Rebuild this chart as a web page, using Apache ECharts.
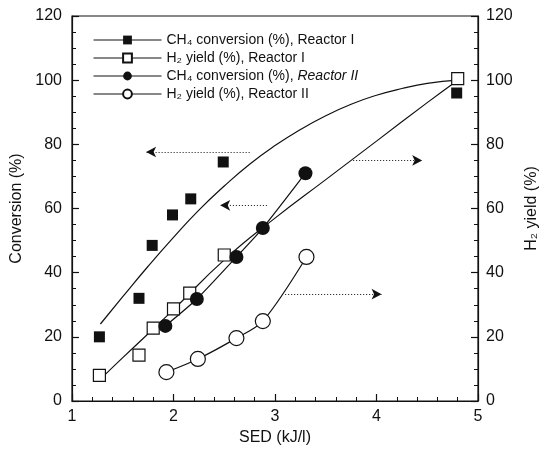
<!DOCTYPE html>
<html>
<head>
<meta charset="utf-8">
<script src="https://cdn.jsdelivr.net/npm/echarts@6/dist/echarts.min.js"></script>
<style>
html,body{margin:0;padding:0;background:#fff;}
#main{width:544px;height:451px;}
</style>
</head>
<body>
<div id="main"></div>
<script>
// measured points
var sedCh4R1 = [1.27, 1.66, 1.79, 1.99, 2.17, 2.49, 4.79];
var ch4R1 = [20, 32, 48.5, 58, 63, 74.5, 96];
var sedH2R1 = [1.27, 1.66, 1.8, 2.0, 2.16, 2.5, 4.8];
var h2R1 = [8, 14.3, 22.7, 28.7, 33.6, 45.5, 100.5];
var sedCh4R2 = [1.92, 2.23, 2.62, 2.88, 3.3];
var ch4R2 = [23.4, 31.8, 44.9, 53.9, 71];
var sedH2R2 = [1.93, 2.24, 2.62, 2.88, 3.31];
var h2R2 = [9, 13.1, 19.6, 24.9, 44.9];

// trend lines
var fitCh4R1X = [1.28, 1.5, 1.75, 2.0, 2.25, 2.5, 2.75, 3.0, 3.25, 3.5, 3.75, 4.0, 4.25, 4.5, 4.8];
var fitCh4R1Y = [24, 32.5, 42, 51, 59.5, 67, 73.8, 79.6, 84.6, 88.9, 92.5, 95.3, 97.4, 99, 100];
var fitH2R1X = [1.27, 1.5, 2.0, 2.5, 3.0, 3.5, 4.0, 4.5, 4.8];
var fitH2R1Y = [6.5, 13.5, 28.5, 44, 57, 69, 81, 93, 100];

// arrows: [x from, x to, y, axis]
var arrows = [
	[2.75, 1.73, 77.6, 0],
	[2.92, 2.46, 61, 0],
	[3.77, 4.45, 75, 1],
	[3.1, 4.05, 33.3, 1]
];

var legendNames = ['CH\u2084 conversion (%), Reactor I', 'H\u2082 yield (%), Reactor I',
	'CH\u2084 conversion (%), Reactor II', 'H\u2082 yield (%), Reactor II'];

function pairs(xs, ys) {
	var out = [];
	for (var i = 0; i < xs.length; i++) out.push([xs[i], ys[i]]);
	return out;
}

function arrowLines(axis) {
	var out = [];
	for (var i = 0; i < arrows.length; i++) {
		if (arrows[i][3] != axis) continue;
		out.push([{coord: [arrows[i][0], arrows[i][2]]}, {coord: [arrows[i][1], arrows[i][2]]}]);
	}
	return out;
}

var ink = '#111';
var fontFam = 'Liberation Sans, Arial, sans-serif';
var legendLine = {width: 1, color: ink, opacity: 1};
var gridBox = {left: 72, right: 66, top: 16, bottom: 50, outerBoundsMode: 'none', containLabel: false};

function tick() {
	return {show: true, inside: true, length: 7, lineStyle: {color: ink, width: 1.2}};
}
function minor(n) {
	return {show: true, splitNumber: n, length: 4, lineStyle: {color: ink, width: 1}};
}
function noSplit() {
	return {show: true, lineStyle: {color: '#fff', opacity: 0}};
}

var myChart = echarts.init(document.getElementById('main'));
var option = {
	animation: false,
	backgroundColor: '#fff',
	textStyle: {fontFamily: fontFam, color: ink},
	grid: [
		echarts.util.extend({show: true, borderColor: ink, borderWidth: 1.2, backgroundColor: 'transparent'}, gridBox),
		echarts.util.extend({}, gridBox)
	],
	legend: {
		left: 88,
		top: 28,
		orient: 'vertical',
		itemWidth: 68,
		itemHeight: 11,
		itemGap: 4,
		formatter: function(name) {
			if (name == legendNames[2]) return '{n|CH\u2084 conversion (%), }{i|Reactor II}';
			return '{n|' + name + '}';
		},
		textStyle: {
			fontSize: 14, color: ink, fontFamily: fontFam,
			rich: {
				n: {fontSize: 14, lineHeight: 16, color: ink, fontFamily: fontFam},
				i: {fontSize: 14, lineHeight: 16, color: ink, fontFamily: fontFam, fontStyle: 'italic'}
			}
		},
		data: [
			{name: legendNames[0], lineStyle: legendLine},
			{name: legendNames[1], lineStyle: legendLine},
			{name: legendNames[2], lineStyle: legendLine},
			{name: legendNames[3], lineStyle: legendLine}
		]
	},
	xAxis: [{
		type: 'value',
		gridIndex: 0,
		min: 1, max: 5, interval: 1,
		name: 'SED (kJ/l)',
		nameLocation: 'middle',
		nameGap: 29,
		nameTextStyle: {fontSize: 16, color: ink},
		axisLine: {show: true, lineStyle: {color: ink, width: 1.2}},
		axisTick: tick(),
		minorTick: minor(5),
		axisLabel: {fontSize: 16, color: ink, margin: 8},
		splitLine: noSplit()
	}, {
		type: 'value',
		gridIndex: 1,
		min: 1, max: 5, interval: 1,
		axisLine: {show: false},
		axisTick: {show: false},
		axisLabel: {show: false},
		splitLine: {show: false}
	}],
	yAxis: [{
		type: 'value',
		gridIndex: 0,
		min: 0, max: 120, interval: 20,
		name: 'Conversion (%)',
		nameLocation: 'middle',
		nameGap: 45,
		nameTextStyle: {fontSize: 16, color: ink},
		axisLine: {show: true, lineStyle: {color: ink, width: 1.2}},
		axisTick: tick(),
		minorTick: minor(4),
		axisLabel: {fontSize: 16, color: ink, margin: 10},
		splitLine: noSplit()
	}, {
		type: 'value',
		gridIndex: 1,
		position: 'right',
		min: 0, max: 120, interval: 20,
		name: 'H\u2082 yield (%)',
		nameLocation: 'middle',
		nameGap: 40,
		nameRotate: 90,
		nameTextStyle: {fontSize: 16, color: ink},
		axisLine: {show: true, lineStyle: {color: ink, width: 1.2}},
		axisTick: tick(),
		minorTick: minor(4),
		axisLabel: {fontSize: 16, color: ink, margin: 8},
		splitLine: noSplit()
	}],
	series: [{
		name: 'fit CH4 I',
		type: 'line',
		smooth: true,
		showSymbol: false,
		z: 1,
		lineStyle: {color: ink, width: 1.2},
		data: pairs(fitCh4R1X, fitCh4R1Y),
		markLine: {
			silent: true,
			symbol: ['none', 'arrow'],
			symbolSize: [8, 10],
			label: {show: false},
			lineStyle: {color: ink, type: [1, 2], width: 1.2},
			data: arrowLines(0)
		}
	}, {
		name: 'fit H2 I',
		type: 'line',
		xAxisIndex: 1,
		yAxisIndex: 1,
		smooth: true,
		showSymbol: false,
		z: 1,
		lineStyle: {color: ink, width: 1.2},
		data: pairs(fitH2R1X, fitH2R1Y),
		markLine: {
			silent: true,
			symbol: ['none', 'arrow'],
			symbolSize: [8, 10],
			label: {show: false},
			lineStyle: {color: ink, type: [1, 2], width: 1.2},
			data: arrowLines(1)
		}
	}, {
		name: legendNames[0],
		type: 'line',
		symbol: 'rect',
		symbolSize: 11,
		itemStyle: {color: ink},
		lineStyle: {width: 0},
		data: pairs(sedCh4R1, ch4R1)
	}, {
		name: legendNames[1],
		type: 'line',
		xAxisIndex: 1,
		yAxisIndex: 1,
		symbol: 'rect',
		symbolSize: 12,
		itemStyle: {color: '#fff', borderColor: ink, borderWidth: 1.2},
		lineStyle: {width: 0},
		data: pairs(sedH2R1, h2R1)
	}, {
		name: legendNames[2],
		type: 'line',
		smooth: 0.2,
		symbol: 'circle',
		symbolSize: 14,
		itemStyle: {color: ink},
		lineStyle: {color: ink, width: 1.2},
		data: pairs(sedCh4R2, ch4R2)
	}, {
		name: legendNames[3],
		type: 'line',
		xAxisIndex: 1,
		yAxisIndex: 1,
		smooth: 0.3,
		symbol: 'circle',
		symbolSize: 15,
		itemStyle: {color: '#fff', borderColor: ink, borderWidth: 1.2},
		lineStyle: {color: ink, width: 1.2},
		data: pairs(sedH2R2, h2R2)
	}]
};
myChart.setOption(option);
</script>
</body>
</html>
